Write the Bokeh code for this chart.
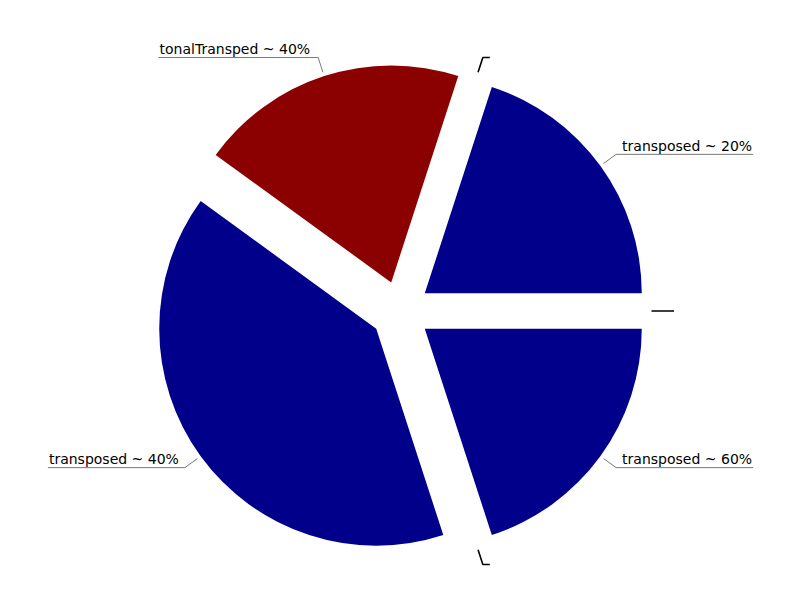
import math
from bokeh.plotting import figure
from bokeh.models import Range1d, ColumnDataSource
from bokeh.core.properties import value
from bokeh.embed import file_html
from bokeh.resources import INLINE

# ---- data ----
labels = ["transposed ~ 20%", "", "tonalTransped ~ 40%", "transposed ~ 40%", "", "transposed ~ 60%", ""]
values = [20, 0, 20, 40, 0, 20, 0]
colors = ["#00008B", "#00008B", "#8B0000", "#00008B", "#00008B", "#00008B", "#00008B"]

# DejaVu Sans advance widths (units per 2048 em) used to size the label underlines
CHAR_W = {" ": 651, "%": 1946, "~": 1716, "T": 1251, "a": 1255, "d": 1300, "e": 1260,
          "l": 569, "n": 1298, "o": 1253, "p": 1300, "r": 842, "s": 1067, "t": 803}
FONT_PX = 14


def text_width(s):
    return sum(CHAR_W.get(c, 1303) for c in s) / 2048.0 * FONT_PX


# ---- layout ----
cx, cy = 400.0, 289.5
R = 217.0
EXPLODE = 30.0
R1, R2 = 251.0, 266.5
GAP = 6.0

p = figure(width=800, height=600, output_backend="svg", toolbar_location=None,
           x_range=Range1d(0, 800), y_range=Range1d(0, 600), min_border=0)
p.axis.visible = False
p.grid.visible = False
p.outline_line_color = None
p.background_fill_color = "white"
p.border_fill_color = "white"

total = float(sum(values))
wx, wy, ws, we, wc = [], [], [], [], []
gx, gy = [], []   # labelled leader lines
kx, ky = [], []   # leader lines of empty slices
tx, ty, tt, ta = [], [], [], []

acc = 0.0
for lab, v, col in zip(labels, values, colors):
    a0 = acc / total * 2 * math.pi
    acc += v
    a1 = acc / total * 2 * math.pi
    mid = (a0 + a1) / 2
    c, s = math.cos(mid), math.sin(mid)
    if v > 0:
        wx.append(cx + EXPLODE * c)
        wy.append(cy + EXPLODE * s)
        ws.append(a0)
        we.append(a1)
        wc.append(col)
    p1 = (cx + R1 * c, cy + R1 * s)
    p2 = (cx + R2 * c, cy + R2 * s)
    w = text_width(lab)
    sign = 1 if c >= 0 else -1
    p3 = (p2[0] + sign * (w + GAP + 1), p2[1])
    xs, ys = [p1[0], p2[0], p3[0]], [p1[1], p2[1], p3[1]]
    if lab:
        gx.append(xs)
        gy.append(ys)
        tx.append(p3[0] - sign * 1)
        ty.append(p2[1] + 0.5)
        tt.append(lab)
        ta.append("right" if sign > 0 else "left")
    else:
        kx.append(xs)
        ky.append(ys)

p.wedge(x="x", y="y", radius=R, start_angle="s", end_angle="e", color="c", line_color=None,
        source=ColumnDataSource(dict(x=wx, y=wy, s=ws, e=we, c=wc)))
p.multi_line(xs=gx, ys=gy, line_color="#777777", line_width=1)
p.multi_line(xs=kx, ys=ky, line_color="black", line_width=1.6)
p.text(x="x", y="y", text="t", text_align="a", source=ColumnDataSource(dict(x=tx, y=ty, t=tt, a=ta)),
       text_baseline="bottom", text_font=value("DejaVu Sans"), text_font_size="14px",
       text_color="black")

open("out.html", "w").write(file_html(p, INLINE))
